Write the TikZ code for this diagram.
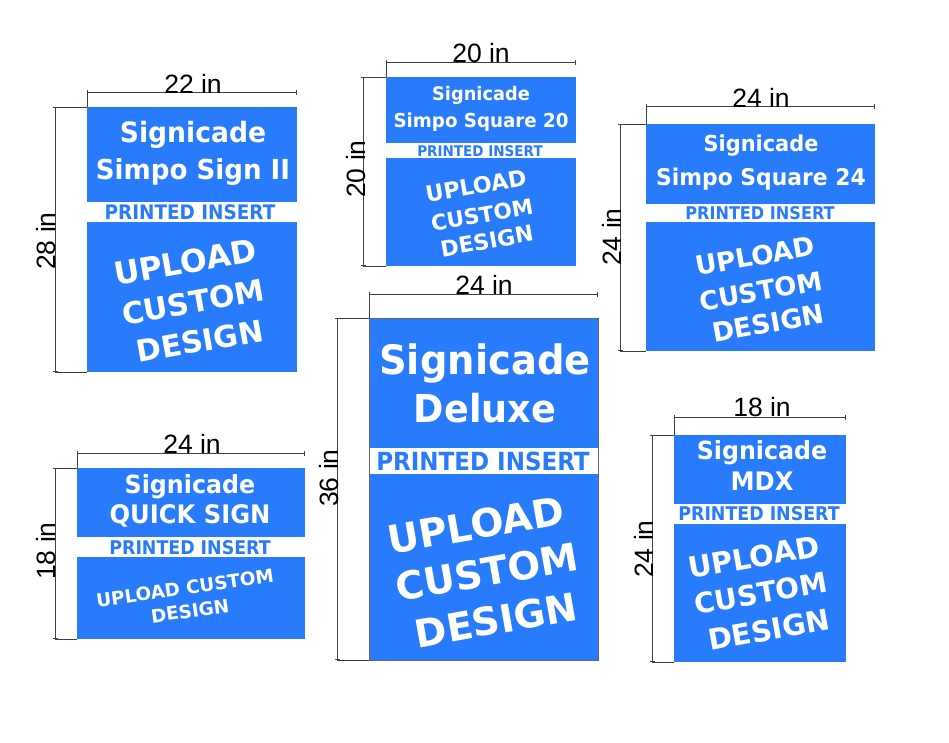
\documentclass[tikz,border=0pt]{standalone}
\usepackage{fontspec}
\usetikzlibrary{arrows.meta}
\setmainfont{DejaVu Sans}
\newfontfamily\dimfont{Liberation Sans}
\definecolor{signblue}{RGB}{40,124,252}
\tikzset{
  dimline/.style={draw=black!75,line width=0.7pt,{Bar[width=5pt]}-{Bar[width=5pt]}},
  leader/.style={draw=black!75,line width=0.6pt},
  dimlabel/.style={font=\dimfont\fontsize{26.5}{26.5}\selectfont,inner sep=0pt},
  panel/.style={fill=signblue},
  band/.style={fill=white},
  title/.style={text=white,inner sep=0pt,font=\bfseries\fontsize{#1}{#1}\selectfont,xscale=0.95},
  insert/.style={text=signblue,inner sep=0pt,font=\bfseries\fontsize{#1}{#1}\selectfont,xscale=0.92},
  upload/.style={text=white,inner sep=0pt,rotate=10,font=\bfseries\fontsize{#1}{#1}\selectfont},
}
\begin{document}
\begin{tikzpicture}[x=1pt,y=-1pt]
\useasboundingbox (0,0) rectangle (949,742);

% Simpo Sign II
\fill[panel] (87,107) rectangle (297,372);
\fill[band] (87,202) rectangle (297,222);
\coordinate (a1) at (87,92); \coordinate (a2) at (297,92);
\coordinate (a3) at (55,107); \coordinate (a4) at (55,372);
\draw[dimline] (a1) -- (a2);
\draw[dimline] (a3) -- (a4);
\draw[leader] (a1) -- (87,107);
\draw[leader] (a3) -- (87,107);
\draw[leader] (a4) -- (87,372);
\node[dimlabel] (a5) at (193,84) {22 in};
\node[dimlabel,rotate=90] (a6) at (46,241) {28 in};
\node[title=28] (a7) at (193,135) {Signicade};
\node[title=27.5] (a8) at (193,172) {Simpo Sign II};
\node[insert=20] (a9) at (190,212) {PRINTED INSERT};
\node[upload=31.5] (a10) at (185,262) {UPLOAD};
\node[upload=30] (a11) at (193,302) {CUSTOM};
\node[upload=30] (a12) at (200,341) {DESIGN};

% Simpo Square 20
\fill[panel] (386,77) rectangle (576,266);
\fill[band] (386,143) rectangle (576,158);
\coordinate (b1) at (386,62); \coordinate (b2) at (576,62);
\coordinate (b3) at (363,77); \coordinate (b4) at (363,266);
\draw[dimline] (b1) -- (b2);
\draw[dimline] (b3) -- (b4);
\draw[leader] (b1) -- (386,77);
\draw[leader] (b3) -- (386,77);
\draw[leader] (b4) -- (386,266);
\node[dimlabel] (b5) at (481,53) {20 in};
\node[dimlabel,rotate=90] (b6) at (356,169) {20 in};
\node[title=18.7] (b7) at (481,95) {Signicade};
\node[title=19.2] (b8) at (481,122) {Simpo Square 20};
\node[insert=14.7] (b9) at (480,151) {PRINTED INSERT};
\node[upload=22.3] (b10) at (476,186) {UPLOAD};
\node[upload=21.5] (b11) at (482,215) {CUSTOM};
\node[upload=22] (b12) at (487,241) {DESIGN};

% Simpo Square 24
\fill[panel] (646,124) rectangle (875,351);
\fill[band] (646,204) rectangle (875,222);
\coordinate (c1) at (646,106); \coordinate (c2) at (875,106);
\coordinate (c3) at (620,124); \coordinate (c4) at (620,351);
\draw[dimline] (c1) -- (c2);
\draw[dimline] (c3) -- (c4);
\draw[leader] (c1) -- (646,124);
\draw[leader] (c3) -- (646,124);
\draw[leader] (c4) -- (646,351);
\node[dimlabel] (c5) at (761,98) {24 in};
\node[dimlabel,rotate=90] (c6) at (612,237) {24 in};
\node[title=22] (c7) at (761,146) {Signicade};
\node[title=23] (c8) at (761,179) {Simpo Square 24};
\node[insert=17.5] (c9) at (760,213) {PRINTED INSERT};
\node[upload=26.3] (c10) at (755,256) {UPLOAD};
\node[upload=26] (c11) at (761,291) {CUSTOM};
\node[upload=26.5] (c12) at (768,323) {DESIGN};

% Deluxe
\fill[panel] (369,318) rectangle (598,660);
\fill[band] (369,448) rectangle (598,474);
\draw[black!60,line width=0.6pt] (369,318) rectangle (598,660);
\coordinate (d1) at (369,294); \coordinate (d2) at (598,294);
\coordinate (d3) at (337,318); \coordinate (d4) at (337,660);
\draw[dimline] (d1) -- (d2);
\draw[dimline] (d3) -- (d4);
\draw[leader] (d1) -- (369,318);
\draw[leader] (d3) -- (369,318);
\draw[leader] (d4) -- (369,660);
\node[dimlabel] (d5) at (484,285) {24 in};
\node[dimlabel,rotate=90] (d6) at (329,478) {36 in};
\node[title=40.5] (d7) at (485,363) {Signicade};
\node[title=38.5] (d8) at (485,408) {Deluxe};
\node[insert=25] (d9) at (483,461) {PRINTED INSERT};
\node[upload=39] (d10) at (476,525) {UPLOAD};
\node[upload=38.5] (d11) at (487,572) {CUSTOM};
\node[upload=38.5] (d12) at (496,620) {DESIGN};

% Quick Sign
\fill[panel] (77,468) rectangle (305,639);
\fill[band] (77,537) rectangle (305,557);
\coordinate (e1) at (77,453); \coordinate (e2) at (305,453);
\coordinate (e3) at (55,468); \coordinate (e4) at (55,639);
\draw[dimline] (e1) -- (e2);
\draw[dimline] (e3) -- (e4);
\draw[leader] (e1) -- (77,468);
\draw[leader] (e3) -- (77,468);
\draw[leader] (e4) -- (77,639);
\node[dimlabel] (e5) at (192,444) {24 in};
\node[dimlabel,rotate=90] (e6) at (46,551) {18 in};
\node[title=25] (e7) at (190,487) {Signicade};
\node[title=25.5] (e8) at (190,516) {QUICK SIGN};
\node[insert=18.9] (e9) at (190,548) {PRINTED INSERT};
\node[upload=18.4,rotate=-2] (e10) at (185,588) {UPLOAD CUSTOM};
\node[upload=18.4,rotate=-2] (e11) at (190,611) {DESIGN};

% MDX
\fill[panel] (674,435) rectangle (846,662);
\fill[band] (674,504) rectangle (846,524);
\coordinate (f1) at (674,417); \coordinate (f2) at (846,417);
\coordinate (f3) at (652,435); \coordinate (f4) at (652,662);
\draw[dimline] (f1) -- (f2);
\draw[dimline] (f3) -- (f4);
\draw[leader] (f1) -- (674,435);
\draw[leader] (f3) -- (674,435);
\draw[leader] (f4) -- (674,662);
\node[dimlabel] (f5) at (762,407) {18 in};
\node[dimlabel,rotate=90] (f6) at (644,549) {24 in};
\node[title=25] (f7) at (762,453) {Signicade};
\node[title=25.5] (f8) at (762,481) {MDX};
\node[insert=18.9] (f9) at (759,514) {PRINTED INSERT};
\node[upload=29] (f10) at (754,557) {UPLOAD};
\node[upload=28] (f11) at (761,593) {CUSTOM};
\node[upload=28.8] (f12) at (769,630) {DESIGN};

\end{tikzpicture}
\end{document}
